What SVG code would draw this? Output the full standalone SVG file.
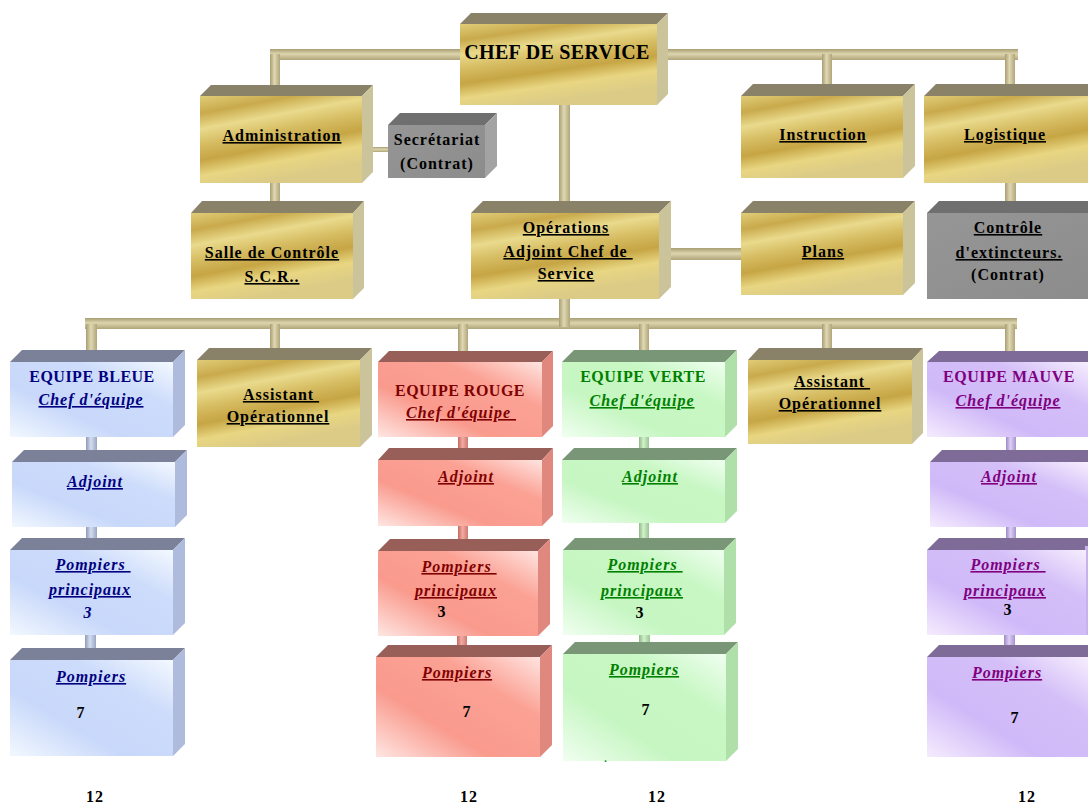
<svg xmlns="http://www.w3.org/2000/svg" width="1088" height="805" viewBox="0 0 1088 805">
<defs>
<linearGradient id="gold" x1="0" y1="0" x2="0.35" y2="1">
<stop offset="0" stop-color="#e0cc78"/><stop offset="0.18" stop-color="#c9aa4c"/><stop offset="0.34" stop-color="#e9da8c"/><stop offset="0.5" stop-color="#d6bc62"/><stop offset="0.66" stop-color="#c6a544"/><stop offset="0.82" stop-color="#e8d682"/><stop offset="1" stop-color="#dccb86"/>
</linearGradient>
<linearGradient id="grey" x1="0" y1="0" x2="1" y2="1"><stop offset="0" stop-color="#969696"/><stop offset="1" stop-color="#8c8c8c"/></linearGradient>
<linearGradient id="blue" x1="0" y1="1" x2="1" y2="0"><stop offset="0" stop-color="#f2f8ff"/><stop offset="0.35" stop-color="#c8d8fa"/><stop offset="0.7" stop-color="#cddcfb"/><stop offset="1" stop-color="#f4f9ff"/></linearGradient>
<linearGradient id="red" x1="0" y1="1" x2="1" y2="0"><stop offset="0" stop-color="#ffe6e2"/><stop offset="0.35" stop-color="#f99a8d"/><stop offset="0.7" stop-color="#fba295"/><stop offset="1" stop-color="#ffe4e0"/></linearGradient>
<linearGradient id="green" x1="0" y1="1" x2="1" y2="0"><stop offset="0" stop-color="#f0fff0"/><stop offset="0.35" stop-color="#c6f6c2"/><stop offset="0.7" stop-color="#c8f7c4"/><stop offset="1" stop-color="#f0fff0"/></linearGradient>
<linearGradient id="mauve" x1="0" y1="1" x2="1" y2="0"><stop offset="0" stop-color="#f5ecfe"/><stop offset="0.35" stop-color="#d0b9f8"/><stop offset="0.7" stop-color="#d4bff8"/><stop offset="1" stop-color="#f6eefe"/></linearGradient>
<linearGradient id="pv" x1="0" y1="0" x2="1" y2="0"><stop offset="0" stop-color="#a89e74"/><stop offset="0.45" stop-color="#e0d8b2"/><stop offset="1" stop-color="#b0a57a"/></linearGradient>
<linearGradient id="ph" x1="0" y1="0" x2="0" y2="1"><stop offset="0" stop-color="#a89e74"/><stop offset="0.45" stop-color="#ddd5ae"/><stop offset="1" stop-color="#b0a57a"/></linearGradient>
<linearGradient id="pb" x1="0" y1="0" x2="1" y2="0"><stop offset="0" stop-color="#8e9ab8"/><stop offset="0.45" stop-color="#d4ddf0"/><stop offset="1" stop-color="#9aa6c4"/></linearGradient>
<linearGradient id="pr" x1="0" y1="0" x2="1" y2="0"><stop offset="0" stop-color="#c8685e"/><stop offset="0.45" stop-color="#f0aaa2"/><stop offset="1" stop-color="#d07a70"/></linearGradient>
<linearGradient id="pg" x1="0" y1="0" x2="1" y2="0"><stop offset="0" stop-color="#8cbc86"/><stop offset="0.45" stop-color="#d2f0cc"/><stop offset="1" stop-color="#98c692"/></linearGradient>
<linearGradient id="pm" x1="0" y1="0" x2="1" y2="0"><stop offset="0" stop-color="#9c88c8"/><stop offset="0.45" stop-color="#dccff4"/><stop offset="1" stop-color="#a892d0"/></linearGradient>
</defs>
<style>
text{font-family:"Liberation Serif","Times New Roman",serif;font-weight:bold;font-size:16px;text-anchor:middle;letter-spacing:1px}
.u{text-decoration:underline}
.i{font-style:italic}
.k{fill:#000}
.nb{fill:#000080}.nr{fill:#800000}.ng{fill:#008000}.nm{fill:#800080}
.gt{fill:#8a8268}.gs{fill:#cbc39a}.gf{fill:url(#gold)}
.yt{fill:#6f6f6f}.ys{fill:#a3a3a3}.yf{fill:url(#grey)}
.bt{fill:#7a8198}.bs{fill:#aebbdc}.bf{fill:url(#blue)}
.rt{fill:#975f58}.rs{fill:#e0877e}.rf{fill:url(#red)}
.vt{fill:#799676}.vs{fill:#b0e0aa}.vf{fill:url(#green)}
.mt{fill:#7e6b98}.ms{fill:#c8b2ee}.mf{fill:url(#mauve)}
</style>
<rect width="1088" height="805" fill="#fff"/>
<g id="connectors">
<rect x="270" y="49" width="748" height="11" fill="url(#ph)"/>
<rect x="270" y="54" width="10" height="37" fill="url(#pv)"/>
<rect x="822" y="54" width="10" height="36" fill="url(#pv)"/>
<rect x="1005" y="54" width="10" height="36" fill="url(#pv)"/>
<rect x="559" y="105" width="11" height="97" fill="url(#pv)"/>
<rect x="362" y="147" width="27" height="5" fill="url(#ph)"/>
<rect x="270" y="183" width="10" height="22" fill="url(#pv)"/>
<rect x="1005" y="183" width="11" height="22" fill="url(#pv)"/>
<rect x="671" y="248" width="70" height="12" fill="url(#ph)"/>
<rect x="85" y="318" width="932" height="11" fill="url(#ph)"/>
<rect x="559" y="299" width="11" height="28" fill="url(#pv)"/>
<rect x="86" y="324" width="11" height="29" fill="url(#pv)"/>
<rect x="270" y="324" width="10" height="27" fill="url(#pv)"/>
<rect x="458" y="324" width="10" height="29" fill="url(#pv)"/>
<rect x="639" y="324" width="10" height="29" fill="url(#pv)"/>
<rect x="822" y="324" width="10" height="27" fill="url(#pv)"/>
<rect x="1005" y="324" width="10" height="29" fill="url(#pv)"/>
<rect x="86" y="433" width="11" height="27" fill="url(#pb)"/>
<rect x="86" y="523" width="11" height="25" fill="url(#pb)"/>
<rect x="85" y="631" width="11" height="24" fill="url(#pb)"/>
<rect x="458" y="433" width="10" height="24" fill="url(#pr)"/>
<rect x="458" y="521" width="10" height="27" fill="url(#pr)"/>
<rect x="457" y="632" width="10" height="23" fill="url(#pr)"/>
<rect x="639" y="433" width="10" height="24" fill="url(#pg)"/>
<rect x="639" y="519" width="10" height="29" fill="url(#pg)"/>
<rect x="639" y="631" width="11" height="22" fill="url(#pg)"/>
<rect x="1006" y="433" width="10" height="26" fill="url(#pm)"/>
<rect x="1006" y="522" width="10" height="26" fill="url(#pm)"/>
<rect x="1004" y="630" width="11" height="24" fill="url(#pm)"/>
</g>
<g id="chef">
<polygon class="gt" points="460,24 471,13 668,13 657,24"/><polygon class="gs" points="657,24 668,13 668,94 657,105"/><rect class="gf" x="460" y="24" width="197" height="81"/>
<text class="k" x="557" y="59" style="font-size:20px;letter-spacing:0.3px">CHEF DE SERVICE</text>
</g>
<g id="administration">
<polygon class="gt" points="200,96 211,85 373,85 362,96"/><polygon class="gs" points="362,96 373,85 373,172 362,183"/><rect class="gf" x="200" y="96" width="162" height="87"/>
<text class="k u" x="282" y="141">Administration</text>
</g>
<g id="secretariat">
<polygon class="yt" points="388,125 400,113 497,113 485,125"/><polygon class="ys" points="485,125 497,113 497,166 485,178"/><rect class="yf" x="388" y="125" width="97" height="53"/>
<text class="k" x="437" y="145">Secrétariat</text><text class="k" x="437" y="169">(Contrat)</text>
</g>
<g id="instruction">
<polygon class="gt" points="741,96 753,84 915,84 903,96"/><polygon class="gs" points="903,96 915,84 915,166 903,178"/><rect class="gf" x="741" y="96" width="162" height="82"/>
<text class="k u" x="823" y="140">Instruction</text>
</g>
<g id="logistique">
<polygon class="gt" points="924,96 936,84 1100,84 1088,96"/><rect class="gf" x="924" y="96" width="164" height="87"/>
<text class="k u" x="1005" y="140">Logistique</text>
</g>
<g id="salle">
<polygon class="gt" points="191,213 202,201 364,201 353,213"/><polygon class="gs" points="353,213 364,201 364,288 353,299"/><rect class="gf" x="191" y="213" width="162" height="86"/>
<text class="k u" x="272" y="258">Salle de Contrôle</text><text class="k u" x="272" y="282">S.C.R..</text>
</g>
<g id="operations">
<polygon class="gt" points="471,213 483,201 671,201 659,213"/><polygon class="gs" points="659,213 671,201 671,287 659,299"/><rect class="gf" x="471" y="213" width="188" height="86"/>
<text class="k u" x="566" y="233">Opérations</text><text class="k u" x="568" y="257">Adjoint Chef de&#160;</text><text class="k u" x="566" y="279">Service</text>
</g>
<g id="plans">
<polygon class="gt" points="741,213 753,201 915,201 903,213"/><polygon class="gs" points="903,213 915,201 915,283 903,295"/><rect class="gf" x="741" y="213" width="162" height="82"/>
<text class="k u" x="823" y="257">Plans</text>
</g>
<g id="controle">
<polygon class="yt" points="927,213 939,201 1100,201 1088,213"/><rect class="yf" x="927" y="213" width="161" height="86"/>
<text class="k u" x="1008" y="233">Contrôle</text><text class="k u" x="1009" y="258">d'extincteurs.</text><text class="k" x="1008" y="280">(Contrat)</text>
</g>
<g id="equipe-bleue">
<polygon class="bt" points="10,362 22,350 185,350 173,362"/><polygon class="bs" points="173,362 185,350 185,425 173,437"/><rect class="bf" x="10" y="362" width="163" height="75"/>
<text class="nb" x="92" y="382" style="letter-spacing:0.5px">EQUIPE BLEUE</text><text class="nb u i" x="91" y="405">Chef d'équipe</text>
</g>
<g id="assistant-1">
<polygon class="gt" points="197,360 209,348 372,348 360,360"/><polygon class="gs" points="360,360 372,348 372,435 360,447"/><rect class="gf" x="197" y="360" width="163" height="87"/>
<text class="k u" x="281" y="400">Assistant&#160;</text><text class="k u" x="278" y="422">Opérationnel</text>
</g>
<g id="equipe-rouge">
<polygon class="rt" points="378,362 389,351 553,351 542,362"/><polygon class="rs" points="542,362 553,351 553,426 542,437"/><rect class="rf" x="378" y="362" width="164" height="75"/>
<text class="nr" x="460" y="396" style="letter-spacing:0.5px">EQUIPE ROUGE</text><text class="nr u i" x="461" y="418">Chef d'équipe&#160;</text>
</g>
<g id="equipe-verte">
<polygon class="vt" points="562,362 574,350 737,350 725,362"/><polygon class="vs" points="725,362 737,350 737,425 725,437"/><rect class="vf" x="562" y="362" width="163" height="75"/>
<text class="ng" x="643" y="382" style="letter-spacing:0.5px">EQUIPE VERTE</text><text class="ng u i" x="642" y="406">Chef d'équipe</text>
</g>
<g id="assistant-2">
<polygon class="gt" points="748,360 759,348 923,348 912,360"/><polygon class="gs" points="912,360 923,348 923,433 912,444"/><rect class="gf" x="748" y="360" width="164" height="84"/>
<text class="k u" x="832" y="387">Assistant&#160;</text><text class="k u" x="830" y="409">Opérationnel</text>
</g>
<g id="equipe-mauve">
<polygon class="mt" points="927,362 939,351 1100,351 1088,362"/><rect class="mf" x="927" y="362" width="161" height="75"/>
<text class="nm" x="1009" y="382" style="letter-spacing:0.5px">EQUIPE MAUVE</text><text class="nm u i" x="1008" y="406">Chef d'équipe</text>
</g>
<g id="adjoint-bleu">
<polygon class="bt" points="12,462 24,450 187,450 175,462"/><polygon class="bs" points="175,462 187,450 187,515 175,527"/><rect class="bf" x="12" y="462" width="163" height="65"/>
<text class="nb u i" x="95" y="487">Adjoint</text>
</g>
<g id="adjoint-rouge">
<polygon class="rt" points="378,460 389,448 553,448 542,460"/><polygon class="rs" points="542,460 553,448 553,515 542,526"/><rect class="rf" x="378" y="460" width="164" height="66"/>
<text class="nr u i" x="466" y="482">Adjoint</text>
</g>
<g id="adjoint-verte">
<polygon class="vt" points="562,460 574,448 737,448 725,460"/><polygon class="vs" points="725,460 737,448 737,511 725,523"/><rect class="vf" x="562" y="460" width="163" height="63"/>
<text class="ng u i" x="650" y="482">Adjoint</text>
</g>
<g id="adjoint-mauve">
<polygon class="mt" points="930,462 942,450 1100,450 1088,462"/><rect class="mf" x="930" y="462" width="158" height="65"/>
<text class="nm u i" x="1009" y="482">Adjoint</text>
</g>
<g id="principaux-bleu">
<polygon class="bt" points="10,550 22,538 185,538 173,550"/><polygon class="bs" points="173,550 185,538 185,623 173,635"/><rect class="bf" x="10" y="550" width="163" height="85"/>
<text class="nb u i" x="93" y="570">Pompiers&#160;</text><text class="nb u i" x="90" y="595">principaux</text><text class="nb i" x="88" y="618">3</text>
</g>
<g id="principaux-rouge">
<polygon class="rt" points="378,551 390,539 550,539 538,551"/><polygon class="rs" points="538,551 550,539 550,624 538,636"/><rect class="rf" x="378" y="551" width="160" height="85"/>
<text class="nr u i" x="459" y="572">Pompiers&#160;</text><text class="nr u i" x="456" y="596">principaux</text><text class="k" x="442" y="617">3</text>
</g>
<g id="principaux-verte">
<polygon class="vt" points="563,550 575,538 736,538 724,550"/><polygon class="vs" points="724,550 736,538 736,623 724,635"/><rect class="vf" x="563" y="550" width="161" height="85"/>
<text class="ng u i" x="645" y="570">Pompiers&#160;</text><text class="ng u i" x="642" y="596">principaux</text><text class="k" x="640" y="618">3</text>
</g>
<g id="principaux-mauve">
<polygon class="mt" points="927,550 939,538 1100,538 1088,550"/><rect class="ms" x="1085" y="546" width="3" height="89"/><rect class="mf" x="927" y="550" width="159" height="85"/>
<text class="nm u i" x="1008" y="570">Pompiers&#160;</text><text class="nm u i" x="1005" y="596">principaux</text><text class="k" x="1008" y="615">3</text>
</g>
<g id="pompiers-bleu">
<polygon class="bt" points="10,660 22,648 185,648 173,660"/><polygon class="bs" points="173,660 185,648 185,744 173,756"/><rect class="bf" x="10" y="660" width="163" height="96"/>
<text class="nb u i" x="91" y="682">Pompiers</text><text class="k" x="81" y="718">7</text>
</g>
<g id="pompiers-rouge">
<polygon class="rt" points="376,657 388,645 552,645 540,657"/><polygon class="rs" points="540,657 552,645 552,745 540,757"/><rect class="rf" x="376" y="657" width="164" height="100"/>
<text class="nr u i" x="457" y="678">Pompiers</text><text class="k" x="467" y="717">7</text>
</g>
<g id="pompiers-verte">
<polygon class="vt" points="563,654 575,642 738,642 726,654"/><polygon class="vs" points="726,654 738,642 738,749 726,761"/><rect class="vf" x="563" y="654" width="163" height="107"/>
<text class="ng u i" x="644" y="675">Pompiers</text><text class="k" x="646" y="715">7</text><text class="ng" x="606" y="762" style="font-size:10px">.</text>
</g>
<g id="pompiers-mauve">
<polygon class="mt" points="927,657 939,645 1100,645 1088,657"/><rect class="mf" x="927" y="657" width="161" height="100"/>
<text class="nm u i" x="1007" y="678">Pompiers</text><text class="k" x="1015" y="723">7</text>
</g>
<g id="totals">
<text class="k" x="95" y="802">12</text><text class="k" x="469" y="802">12</text><text class="k" x="657" y="802">12</text><text class="k" x="1027" y="802">12</text>
</g>
</svg>
